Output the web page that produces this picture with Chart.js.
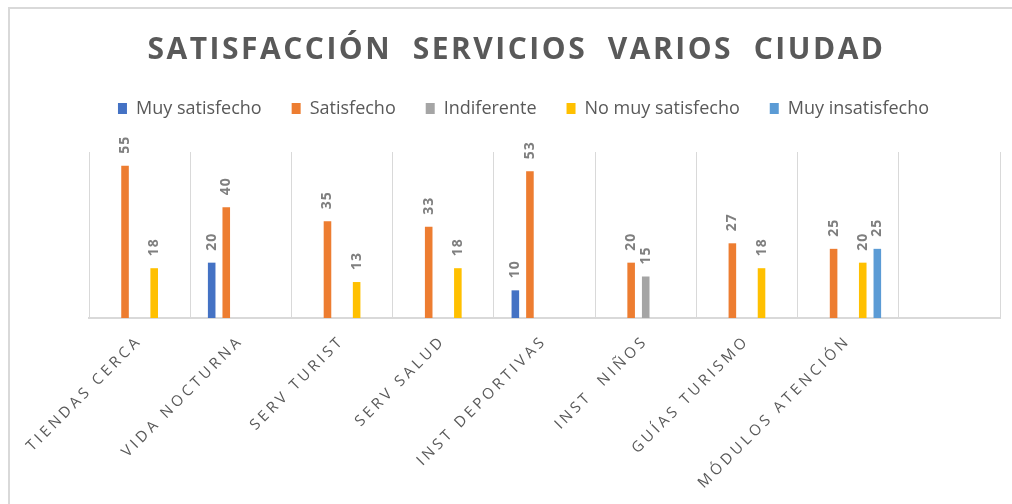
<!DOCTYPE html>
<html><head><meta charset="utf-8">
<script src="https://cdn.jsdelivr.net/npm/chart.js@4.4.1/dist/chart.umd.min.js"></script>
<style>
html,body{margin:0;padding:0;background:#fff;}
#wrap{position:relative;width:1012px;height:504px;overflow:hidden;}
#frame{position:absolute;left:8px;top:7px;width:1020px;height:520px;border:2px solid #D9D9D9;pointer-events:none;box-sizing:border-box;}
canvas{display:block;}
</style></head><body>
<div id="wrap"><canvas id="c" width="1012" height="504"></canvas><div id="frame"></div></div>
<script>
const categories = ['TIENDAS CERCA','VIDA NOCTURNA','SERV TURIST','SERV SALUD','INST DEPORTIVAS','INST  NIÑOS','GUÍAS TURISMO','MÓDULOS ATENCIÓN',''];
const muySatisfecho   = [null, 20, null, null, 10, null, null, null, null];
const satisfecho      = [55, 40, 35, 33, 53, 20, 27, 25, null];
const indiferente     = [null, null, null, null, null, 15, null, null, null];
const noMuySatisfecho = [18, null, 13, 18, null, null, 18, 20, null];
const muyInsatisfecho = [null, null, null, null, null, null, null, 25, null];
const seriesNames  = ['Muy satisfecho','Satisfecho','Indiferente','No muy satisfecho','Muy insatisfecho'];
const seriesColors = ['#4472C4','#ED7D31','#A5A5A5','#FFC000','#5B9BD5'];
const chartTitle = 'SATISFACCIÓN  SERVICIOS  VARIOS  CIUDAD';
const yMin = 0, yMax = 60;

const seriesData = [muySatisfecho, satisfecho, indiferente, noMuySatisfecho, muyInsatisfecho];

// shift of header blocks so they are centred on the whole frame rather than the plot area
const TITLE_SHIFT = -28;
const LEGEND_SHIFT = -21;

const spacingPlugin = {
  id: 'spacing',
  beforeUpdate(chart) {
    const lg = chart.legend;
    if (lg && !lg._spx) {
      const of = lg.fit;
      lg.fit = function () { of.call(this); this.height += 24.5; };
      const od = lg.draw;
      lg.draw = function (a) { const c = this.ctx; c.save(); c.translate(LEGEND_SHIFT, 0); od.call(this, a); c.restore(); };
      lg._spx = true;
    }
  },
  beforeDraw(chart) {
    const t = chart.titleBlock;
    if (t && !t._spx) {
      const od = t.draw;
      t.draw = function (a) {
        const c = this.ctx; c.save(); c.translate(TITLE_SHIFT, 0); c.letterSpacing = '2.5px'; od.call(this, a); c.restore();
      };
      t._spx = true;
    }
  }
};

const valueLabels = {
  id: 'valueLabels',
  afterDatasetsDraw(chart) {
    const ctx = chart.ctx;
    chart.data.datasets.forEach((ds, i) => {
      const meta = chart.getDatasetMeta(i);
      meta.data.forEach((el, j) => {
        const v = ds.data[j];
        if (v == null) return;
        ctx.save();
        ctx.letterSpacing = '1px';
        ctx.font = 'bold 14px "Open Sans"';
        ctx.fillStyle = '#7F7F7F';
        ctx.textAlign = 'left';
        ctx.textBaseline = 'middle';
        ctx.translate(el.x, el.y - 12);
        ctx.rotate(-Math.PI / 2);
        ctx.fillText(String(v), 0, 0);
        ctx.restore();
      });
    });
  }
};

new Chart(document.getElementById('c'), {
  type: 'bar',
  data: {
    labels: categories,
    datasets: seriesData.map((d, i) => ({
      label: seriesNames[i],
      data: d,
      backgroundColor: seriesColors[i],
      borderWidth: 0,
      categoryPercentage: 0.72,
      barPercentage: 0.52
    }))
  },
  options: {
    responsive: false,
    devicePixelRatio: 1,
    animation: false,
    layout: { padding: { left: 89, right: 12, top: 8, bottom: 0 } },
    plugins: {
      title: {
        display: true,
        text: chartTitle,
        color: '#595959',
        font: { family: '"Open Sans"', size: 30, weight: 'bold' },
        padding: { top: 24, bottom: 1.5 }
      },
      legend: {
        display: true,
        position: 'top',
        labels: {
          color: '#595959',
          font: { family: '"Open Sans"', size: 18 },
          boxWidth: 9,
          boxHeight: 11,
          padding: 30
        }
      },
      tooltip: { enabled: false }
    },
    scales: {
      x: {
        grid: { display: true, color: '#D9D9D9', lineWidth: 1, drawTicks: false, offset: true },
        border: { display: true, color: '#D9D9D9', width: 2 },
        ticks: {
          color: '#595959',
          font: { family: '"Open Sans"', size: 15 },
          minRotation: 45, maxRotation: 45,
          autoSkip: false,
          padding: 14
        },
        afterFit(scale) { scale.height = 186; scale.paddingLeft = 0; scale.paddingRight = 0; },
        afterUpdate(scale) {
          if (!scale._spx) {
            const od = scale.draw;
            scale.draw = function (a) { const c = this.ctx; c.save(); c.letterSpacing = '3.5px'; od.call(this, a); c.restore(); };
            scale._spx = true;
          }
        }
      },
      y: { display: false, min: yMin, max: yMax, beginAtZero: true }
    }
  },
  plugins: [spacingPlugin, valueLabels]
});
</script>
</body></html>
